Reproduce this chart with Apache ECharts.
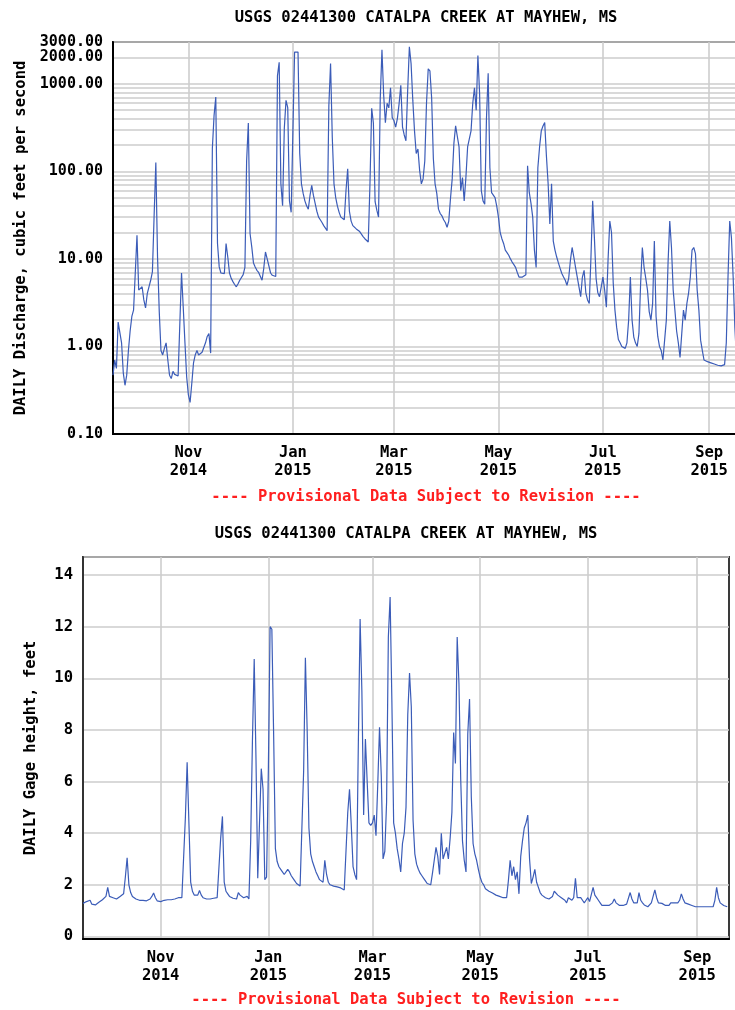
<!DOCTYPE html>
<html>
<head>
<meta charset="utf-8">
<script src="https://cdn.jsdelivr.net/npm/echarts@6/dist/echarts.min.js"></script>
<style>
  html, body { margin: 0; padding: 0; background: #fff; }
  #chart { width: 735px; height: 1010px; }
</style>
</head>
<body>
<div id="chart"></div>
<script>
const stationTitle = 'USGS 02441300 CATALPA CREEK AT MAYHEW, MS'
const provisionalNote = '---- Provisional Data Subject to Revision ----'
const axisStart = [2014, 8, 18]
const axisEnd = [2015, 8, 19]
const monthTicks = [[2014, 10, 1], [2015, 0, 1], [2015, 2, 1], [2015, 4, 1], [2015, 6, 1], [2015, 8, 1]]
const monthNames = ['Jan', 'Feb', 'Mar', 'Apr', 'May', 'Jun', 'Jul', 'Aug', 'Sep', 'Oct', 'Nov', 'Dec']
const dischargeTicks = [0.1, 1, 10, 100, 1000, 2000, 3000]

// daily discharge, cubic feet per second, first value = 2014-09-18
const discharge = [
  0.47, 0.70, 0.56, 1.9, 2.0, 1.1, 0.5, 0.36, 0.47, 0.9, 1.5, 2.2, 2.6,
  6.9, 18.6, 4.4, 4.6, 4.8, 3.4, 2.75, 4.0, 4.8, 5.7, 7.1, 31, 126, 10.5, 2.5, 0.9, 0.8, 0.95, 1.1, 0.7,
  0.47, 0.43, 0.52, 0.48, 0.47, 0.46, 0.45, 6.9, 2.8, 1.1, 0.45,
  0.28, 0.23, 0.38, 0.65, 0.8, 0.9, 0.8, 0.82, 0.86, 0.86, 1.1, 1.3, 1.4, 0.84, 183, 436, 705, 15, 8.1, 6.9,
  6.6, 6.8, 15, 10.5, 6.9, 6.0, 5.5, 5.1, 4.8, 5.2,
  5.7, 6.0, 6.6, 8.0, 131, 357, 19.5, 13.7, 9.0, 8.1, 7.4, 7.0, 6.9, 5.7, 7.8, 12, 10, 9.5, 6.9, 6.5,
  6.3, 6.3, 1230, 1760, 72, 40.5, 310, 646, 534, 46, 34,
  33, 2300, 2300, 2300, 160, 72, 56, 46, 40.5, 37, 53, 69, 53, 43, 35, 30, 28, 26, 24, 23,
  21, 560, 1700, 245, 72, 50, 40, 34, 30, 29, 28,
  60, 107, 35, 27, 24, 23, 22, 21, 20.5, 20, 18, 17, 16.2, 15.6, 72, 525, 355, 45, 36, 30,
  680, 2450, 740, 360, 600, 530, 900, 410,
  380, 320, 400, 590, 960, 320, 260, 223, 830, 2650, 1700, 650, 290, 160, 180, 102, 72, 82, 131, 600,
  1480, 1400, 690, 140, 72, 56, 37, 33, 31, 28, 26,
  23, 27, 49, 82, 210, 330, 250, 190, 60, 85, 46, 85, 190, 200, 290, 600, 900, 500, 2100, 780,
  60, 46, 42, 400, 1320, 110, 57, 57, 50, 40,
  30, 20, 17, 15, 12.6, 11.8, 11, 10, 9.2, 8.6, 8.0, 7.0, 6.2, 6.2, 6.2, 6.2, 6.6, 116, 57, 43,
  30, 12.6, 8.0, 110, 190, 290, 330, 360, 150, 72, 25,
  72, 16, 12.6, 10.5, 9.0, 7.8, 6.8, 6.2, 5.7, 5.0, 6.0, 9.6, 13.5, 10.5, 8.0, 6.2, 4.8, 3.7, 6.2, 7.4,
  4.1, 3.4, 3.1, 10.5, 46, 17.5, 6.0, 4.1, 3.7, 4.8,
  6.2, 4.4, 2.8, 10, 27, 20, 5.3, 2.6, 1.65, 1.2, 1.1, 1.0, 0.97, 0.95, 1.1, 2.0, 6.2, 2.0, 1.28, 1.1,
  1.0, 1.4, 5.3, 13.5, 8.0, 6.0, 4.4, 2.5, 2.0, 3.1, 16,
  2.2, 1.3, 1.0, 0.9, 0.7, 1.18, 2.0, 9, 27, 13.5, 4.4, 2.6, 1.5, 1.1, 0.75, 1.4, 2.6, 2.0, 3.1, 4.1,
  6.2, 12.6, 13.5, 11.5, 4.4, 2.6, 1.18, 0.9, 0.7, 0.68, 0.67,
  0.66, 0.65, 0.64, 0.63, 0.62, 0.61, 0.6, 0.6, 0.6, 0.62, 1.1, 6.2, 27, 17.5, 6.2, 1.65, 0.7, 0.65
]

// daily gage height, feet, same days
const gageHeight = [
  1.28, 1.3, 1.35, 1.42, 1.4, 1.25, 1.2, 1.22, 1.28, 1.32, 1.38, 1.42, 1.45,
  1.55, 1.9, 1.55, 1.5, 1.5, 1.48, 1.45, 1.5, 1.55, 1.6, 1.65, 2.3, 3.05, 2.0, 1.7, 1.55, 1.48, 1.45, 1.42, 1.4,
  1.38, 1.4, 1.4, 1.38, 1.4, 1.45, 1.55, 1.68, 1.5, 1.38, 1.35,
  1.35, 1.38, 1.4, 1.42, 1.42, 1.4, 1.42, 1.42, 1.45, 1.45, 1.5, 1.48, 1.5, 1.55, 4.6, 6.75, 4.4, 2.1, 1.75, 1.6,
  1.55, 1.6, 1.78, 1.6, 1.5, 1.48, 1.45, 1.42, 1.45, 1.45,
  1.48, 1.48, 1.5, 1.45, 3.8, 4.65, 2.1, 1.75, 1.65, 1.55, 1.5, 1.48, 1.45, 1.45, 1.7, 1.6, 1.6, 1.5, 1.45, 1.55,
  1.45, 3.7, 7.6, 10.75, 6.9, 2.25, 4.4, 6.5, 5.7, 2.2, 2.3,
  6.4, 12.0, 11.9, 7.85, 3.4, 2.9, 2.7, 2.6, 2.5, 2.4, 2.4, 2.6, 2.5, 2.35, 2.25, 2.15, 2.05, 2.0, 1.95, 1.9,
  6.4, 10.8, 8.0, 4.2, 3.2, 2.9, 2.7, 2.5, 2.35, 2.2, 2.15,
  2.1, 2.95, 2.4, 2.1, 2.0, 1.98, 1.95, 1.95, 1.92, 1.9, 1.88, 1.85, 1.8, 1.85, 4.8, 5.7, 4.3, 2.7, 2.4, 2.2,
  7.5, 12.3, 9.5, 4.7, 7.65, 6.0, 4.4, 4.3,
  4.4, 4.7, 3.9, 5.9, 8.1, 6.2, 3.0, 3.3, 5.2, 11.6, 13.15, 9.1, 4.4, 4.0, 3.4, 3.0, 2.5, 3.6, 4.0, 5.0,
  8.6, 10.2, 8.9, 4.5, 3.2, 2.8, 2.6, 2.45, 2.35, 2.25, 2.15,
  2.05, 2.0, 2.0, 2.45, 2.95, 3.45, 3.1, 2.4, 4.0, 3.0, 2.95, 3.45, 3.0, 3.8, 4.8, 7.9, 6.7, 11.6, 9.8, 6.1,
  3.7, 2.95, 2.5, 7.85, 9.2, 5.4, 3.6, 3.2, 2.95, 2.6,
  2.3, 2.1, 2.0, 1.85, 1.8, 1.75, 1.7, 1.68, 1.65, 1.6, 1.58, 1.55, 1.52, 1.5, 1.5, 1.5, 2.15, 2.95, 2.35, 2.7,
  2.2, 2.5, 1.65, 3.1, 3.7, 4.2, 4.4, 4.7, 3.0, 2.05, 2.3,
  2.6, 2.1, 1.9, 1.7, 1.6, 1.55, 1.5, 1.48, 1.45, 1.45, 1.55, 1.75, 1.7, 1.6, 1.55, 1.5, 1.5, 1.4, 1.3, 1.5,
  1.45, 1.4, 1.5, 2.25, 1.5, 1.45, 1.5, 1.4, 1.3, 1.4,
  1.5, 1.35, 1.3, 1.9, 1.6, 1.5, 1.4, 1.3, 1.2, 1.2, 1.2, 1.2, 1.2, 1.25, 1.3, 1.45, 1.3, 1.25, 1.2, 1.2,
  1.2, 1.22, 1.25, 1.3, 1.7, 1.45, 1.3, 1.28, 1.3, 1.7, 1.4,
  1.3, 1.22, 1.18, 1.15, 1.2, 1.3, 1.35, 1.8, 1.5, 1.3, 1.28, 1.28, 1.25, 1.2, 1.15, 1.2, 1.3, 1.3, 1.3, 1.3,
  1.3, 1.4, 1.65, 1.45, 1.3, 1.28, 1.25, 1.2, 1.2, 1.18, 1.15,
  1.15, 1.15, 1.15, 1.15, 1.15, 1.15, 1.15, 1.15, 1.15, 1.15, 1.4, 1.9, 1.5, 1.3, 1.25, 1.2, 1.18, 1.15
]

const toTime = (ymd) => new Date(ymd[0], ymd[1], ymd[2]).getTime()
const days = discharge.map((_, i) => new Date(2014, 8, 18 + i).getTime())
const tickTimes = monthTicks.map(toTime)

const font = '"DejaVu Sans Mono", monospace'
const textStyle = { fontFamily: font, fontWeight: 'bold', fontSize: 15.5, color: '#000' }
const gridLine = { show: true, lineStyle: { color: '#cdcdcd', width: 1.6 } }
const lineColor = '#3b5cb8'

function monthLabel(v) {
  const d = new Date(v)
  return monthNames[d.getMonth()] + '\n' + d.getFullYear()
}

function dateAxis(gridIndex) {
  return {
    type: 'value',
    gridIndex,
    min: toTime(axisStart),
    max: toTime(axisEnd),
    axisLine: { show: true, onZero: false, lineStyle: { color: '#000', width: 2 } },
    axisTick: { show: false, customValues: tickTimes },
    axisLabel: {
      customValues: tickTimes,
      formatter: monthLabel,
      margin: 10,
      lineHeight: 18,
      hideOverlap: false,
      ...textStyle
    },
    splitLine: gridLine
  }
}

function textItem(text, x, y, fill) {
  return {
    type: 'text',
    x,
    y,
    style: {
      text,
      fill,
      font: 'bold 15.5px ' + font,
      align: 'center',
      verticalAlign: 'middle',
      textAlign: 'center',
      textVerticalAlign: 'middle'
    }
  }
}

const chart = echarts.init(document.getElementById('chart'))
chart.setOption({
  animation: false,
  backgroundColor: '#fff',
  graphic: [
    textItem(stationTitle, 426, 18, '#000'),
    textItem(provisionalNote, 426, 497, '#ff1f1f'),
    textItem(stationTitle, 406, 534, '#000'),
    textItem(provisionalNote, 406, 1000, '#ff1f1f')
  ],
  grid: [
    { left: 113, top: 42, width: 627, height: 392, show: true, borderColor: '#3a3a3a', borderWidth: 2, outerBoundsMode: 'none', containLabel: false },
    { left: 83, top: 557, width: 646, height: 382, show: true, borderColor: '#3a3a3a', borderWidth: 2, outerBoundsMode: 'none', containLabel: false }
  ],
  xAxis: [dateAxis(0), dateAxis(1)],
  yAxis: [
    {
      type: 'log',
      logBase: 10,
      gridIndex: 0,
      min: 0.1,
      max: 3000,
      name: 'DAILY Discharge, cubic feet per second',
      nameLocation: 'middle',
      nameGap: 81,
      nameTextStyle: textStyle,
      axisLine: { show: true, lineStyle: { color: '#000', width: 2 } },
      axisTick: { show: false },
      minorTick: { show: false, splitNumber: 9 },
      axisLabel: {
        customValues: dischargeTicks,
        formatter: (v) => v.toFixed(2),
        margin: 10,
        hideOverlap: false,
        ...textStyle,
        fontSize: 15
      },
      splitLine: gridLine,
      minorSplitLine: gridLine
    },
    {
      type: 'value',
      gridIndex: 1,
      min: -0.1,
      max: 14.7,
      splitNumber: 7,
      minInterval: 2,
      maxInterval: 2,
      name: 'DAILY Gage height, feet',
      nameLocation: 'middle',
      nameGap: 44,
      nameTextStyle: textStyle,
      axisLine: { show: true, lineStyle: { color: '#333', width: 2 } },
      axisTick: { show: false },
      axisLabel: {
        showMinLabel: false,
        showMaxLabel: false,
        margin: 10,
        padding: [4, 0, 0, 0],
        hideOverlap: false,
        ...textStyle
      },
      splitLine: gridLine
    }
  ],
  series: [
    {
      name: 'discharge',
      type: 'line',
      xAxisIndex: 0,
      yAxisIndex: 0,
      showSymbol: false,
      symbol: 'none',
      lineStyle: { color: lineColor, width: 1.2 },
      data: days.map((t, i) => [t, discharge[i]])
    },
    {
      name: 'gage height',
      type: 'line',
      xAxisIndex: 1,
      yAxisIndex: 1,
      showSymbol: false,
      symbol: 'none',
      lineStyle: { color: lineColor, width: 1.2 },
      data: days.map((t, i) => [t, gageHeight[i]])
    }
  ]
})
</script>
</body>
</html>
